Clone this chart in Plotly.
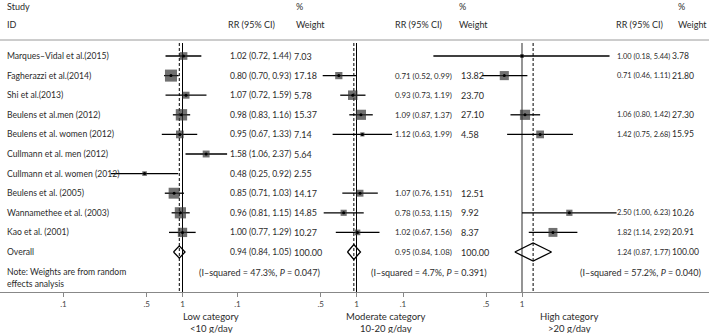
import plotly.graph_objects as go

# ---------------- data ----------------
studies = ["Marques–Vidal et al.(2015)", "Fagherazzi et al.(2014)", "Shi et al.(2013)",
           "Beulens et al.men (2012)", "Beulens et al. women (2012)", "Cullmann et al. men (2012)",
           "Cullmann et al. women (2012)", "Beulens et al. (2005)", "Wannamethee et al. (2003)",
           "Kao et al. (2001)"]

low_rr = [1.02, 0.80, 1.07, 0.98, 0.95, 1.58, 0.48, 0.85, 0.96, 1.00]
low_lo = [0.72, 0.70, 0.72, 0.83, 0.67, 1.06, 0.25, 0.71, 0.81, 0.77]
low_hi = [1.44, 0.93, 1.59, 1.16, 1.33, 2.37, 0.92, 1.03, 1.15, 1.29]
low_w = [7.03, 17.18, 5.78, 15.37, 7.14, 5.64, 2.55, 14.17, 14.85, 10.27]
low_overall = [0.94, 0.84, 1.05]

mod_rr = [None, 0.71, 0.93, 1.09, 1.12, None, None, 1.07, 0.78, 1.02]
mod_lo = [None, 0.52, 0.73, 0.87, 0.63, None, None, 0.76, 0.53, 0.67]
mod_hi = [None, 0.99, 1.19, 1.37, 1.99, None, None, 1.51, 1.15, 1.56]
mod_w = [None, 13.82, 23.70, 27.10, 4.58, None, None, 12.51, 9.92, 8.37]
mod_overall = [0.95, 0.84, 1.08]

high_rr = [1.00, 0.71, None, 1.06, 1.42, None, None, None, 2.50, 1.82]
high_lo = [0.18, 0.46, None, 0.80, 0.75, None, None, None, 1.00, 1.14]
high_hi = [5.44, 1.11, None, 1.42, 2.68, None, None, None, 6.23, 2.92]
high_w = [3.78, 21.80, None, 27.30, 15.95, None, None, None, 10.26, 20.91]
high_overall = [1.24, 0.87, 1.77]

heterogeneity = ["(I–squared = 47.3%, <i>P</i> = 0.047)",
                 "(I–squared = 4.7%, <i>P</i> = 0.391)",
                 "(I–squared = 57.2%, <i>P</i> = 0.040)"]
categories = [("Low category", "<10 g/day"), ("Moderate category", "10-20 g/day"),
              ("High category", ">20 g/day")]
tick_vals = [0.1, 0.5, 1]
tick_text = [".1", ".5", "1"]

# ---------------- layout geometry ----------------
W, H = 709, 333
DEC = 119.0                      # px per decade
centers = [182.5, 356.5, 522.0]  # pixel of RR = 1 per panel
ROW0, ROWH = 56.0, 19.6          # pixel of first row, row spacing
AXIS_PX = 292.0

def row_of(px):
    return (px - ROW0) / ROWH

y_top = row_of(0)
y_bot = row_of(H)
y_axis = row_of(AXIS_PX)
y_vtop = row_of(43)

TXT = "#2b2b2b"
FONT = "Lato"
FS = 9

fig = go.Figure()

panels = [
    (low_rr, low_lo, low_hi, low_w, low_overall, 2.9, 0.31, "black", 1.0),
    (mod_rr, mod_lo, mod_hi, mod_w, mod_overall, 1.95, 0.38, "black", 1.0),
    (high_rr, high_lo, high_hi, high_w, high_overall, 1.95, 0.46, "#7a7a7a", 1.6),
]
axnames = ["x", "x2", "x3"]
rr_left = [228, 393, 615]
rr_size = [8.5, 7.9, 7.4]
w_left = [292, 459, 670]
w_size = [9, 9, 8.6]
hdr_w_left = [294, 457, 676]
hdr_rr_right = [277, 444, 665]
het_right = [322, 489, 703]
cat_center = [211, 386, 569]

annotations = []

def ann(x_px, y_row, text, anchor="left", size=FS, color=TXT, family=FONT):
    annotations.append(dict(x=x_px / W, xref="paper", y=y_row, yref="y", text=text,
                            showarrow=False, xanchor=anchor, yanchor="middle",
                            font=dict(family=family, size=size, color=color)))

for p, (rr, lo, hi, w, ov, k, dh, refcol, refw) in enumerate(panels):
    ax = axnames[p]
    # reference line at 1
    fig.add_trace(go.Scatter(x=[1, 1], y=[y_vtop, y_axis], mode="lines", xaxis=ax,
                             line=dict(color=refcol, width=refw), hoverinfo="skip"))
    # dashed line at overall estimate
    fig.add_trace(go.Scatter(x=[ov[0], ov[0]], y=[y_vtop, y_axis], mode="lines", xaxis=ax,
                             line=dict(color="black", width=1, dash="3px,2px"), hoverinfo="skip"))
    # CI lines
    xs, ys = [], []
    for i in range(len(studies)):
        if rr[i] is None:
            continue
        xs += [lo[i], hi[i], None]
        ys += [i, i, None]
    fig.add_trace(go.Scatter(x=xs, y=ys, mode="lines", xaxis=ax,
                             line=dict(color="black", width=1.3), hoverinfo="skip"))
    idx = [i for i in range(len(studies)) if rr[i] is not None]
    # weight boxes
    fig.add_trace(go.Scatter(x=[rr[i] for i in idx], y=idx, mode="markers", xaxis=ax,
                             marker=dict(symbol="square", color="#333333",
                                         size=[k * w[i] ** 0.5 for i in idx], line=dict(width=0)),
                             hoverinfo="skip"))
    # point estimates
    fig.add_trace(go.Scatter(x=[rr[i] for i in idx], y=idx, mode="markers", xaxis=ax,
                             marker=dict(symbol="circle", color="black", size=3),
                             hoverinfo="skip"))
    # overall diamond
    r = len(studies)
    fig.add_trace(go.Scatter(x=[ov[1], ov[0], ov[2], ov[0], ov[1]],
                             y=[r, r - dh, r, r + dh, r], mode="lines", xaxis=ax,
                             line=dict(color="black", width=1.3), hoverinfo="skip"))
    # texts
    for i in idx:
        ann(rr_left[p], i, f"{rr[i]:.2f} ({lo[i]:.2f}, {hi[i]:.2f})", size=rr_size[p])
        ann(w_left[p], i, f"{w[i]:.2f}", size=w_size[p])
    ann(rr_left[p], r, f"{ov[0]:.2f} ({ov[1]:.2f}, {ov[2]:.2f})", size=rr_size[p])
    ann(w_left[p], r, "100.00", size=w_size[p])
    ann(het_right[p], row_of(272), heterogeneity[p], anchor="right")
    ann(hdr_rr_right[p], row_of(24), "RR (95% CI)", anchor="right")
    ann(hdr_w_left[p], row_of(6), "%")
    ann(hdr_w_left[p], row_of(24), "Weight")
    ann(cat_center[p], row_of(316), categories[p][0], anchor="center", size=9.5)
    ann(cat_center[p], row_of(328), categories[p][1], anchor="center", size=9.5)

for i, s in enumerate(studies):
    ann(5, i, s, size=8.6)
ann(5, len(studies), "Overall", size=8.6)
ann(5, row_of(272), "Note: Weights are from random", size=8.6)
ann(5, row_of(284), "effects analysis", size=8.6)
ann(5, row_of(6), "Study")
ann(5, row_of(24), "ID")

# header rule
fig.add_shape(type="line", xref="paper", x0=0, x1=1, yref="y", y0=row_of(40), y1=row_of(40),
              line=dict(color="#9a9a9a", width=1))

axis_pos = (H - AXIS_PX) / H
common = dict(type="log", domain=[0, 1], anchor="free", position=axis_pos,
              showgrid=False, zeroline=False, ticks="outside", ticklen=4, tickcolor="#888",
              tickvals=tick_vals, ticktext=tick_text,
              tickfont=dict(family=FONT, size=8, color="#444"))
ranges = [[-c / DEC, (W - c) / DEC] for c in centers]
fig.update_layout(
    width=W, height=H, margin=dict(l=0, r=0, t=0, b=0, autoexpand=False),
    plot_bgcolor="white", paper_bgcolor="white", showlegend=False,
    xaxis=dict(**common, range=ranges[0], showline=True, linecolor="#888", linewidth=1),
    xaxis2=dict(**common, range=ranges[1], overlaying="x", showline=False),
    xaxis3=dict(**common, range=ranges[2], overlaying="x", showline=False),
    yaxis=dict(range=[y_bot, y_top], visible=False, domain=[0, 1]),
    annotations=annotations,
)

fig.write_html("out.html", config={"displayModeBar": False},
               post_script="document.body.style.margin='0';document.body.style.padding='0';")
